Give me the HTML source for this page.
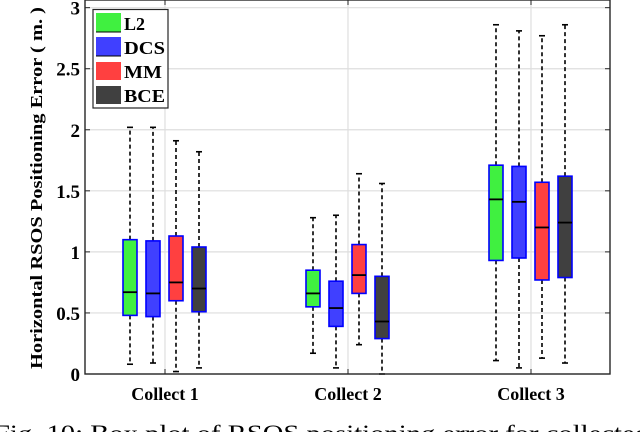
<!DOCTYPE html>
<html><head><meta charset="utf-8"><style>
html,body{margin:0;padding:0;background:#fff;overflow:hidden}
svg{display:block;font-family:"Liberation Serif",serif}
</style></head><body>
<svg id="chart" width="640" height="432" viewBox="0 0 640 432">
<g id="grid"></g>
<g id="boxes"></g>
<g id="axes"></g>
<text x="42" y="188" transform="rotate(-90 42 188)" text-anchor="middle" font-size="17" font-weight="bold" textLength="362" lengthAdjust="spacingAndGlyphs">Horizontal RSOS Positioning Error ( m. )</text>
<g>
<rect x="93" y="9.5" width="75" height="98.5" fill="#fff" stroke="#262626" stroke-width="1.2"/>
<g><rect x="96" y="13" width="25" height="19" fill="#40f040"/><line x1="96" y1="32" x2="121" y2="32" stroke="#000"/><text x="124" y="30" font-size="18" font-weight="bold">L2</text></g>
<g><rect x="96" y="37" width="25" height="19" fill="#4040ff"/><line x1="96" y1="56" x2="121" y2="56" stroke="#000"/><text x="124" y="54" font-size="18" font-weight="bold" textLength="41" lengthAdjust="spacingAndGlyphs">DCS</text></g>
<g><rect x="96" y="62" width="25" height="18" fill="#ff4040"/><text x="124" y="78" font-size="18" font-weight="bold" textLength="38" lengthAdjust="spacingAndGlyphs">MM</text></g>
<g><rect x="96" y="86" width="25" height="18" fill="#404040"/><text x="124" y="102" font-size="18" font-weight="bold" textLength="41" lengthAdjust="spacingAndGlyphs">BCE</text></g>
</g>
<text x="-6" y="441" font-size="23" textLength="655" lengthAdjust="spacingAndGlyphs">Fig. 10: Box plot of RSOS positioning error for collected</text>
</svg>
<script>
const categories = ["Collect 1","Collect 2","Collect 3"];
const methods = ["L2","DCS","MM","BCE"];
const colors = ["#40f040","#4040ff","#ff4040","#404040"];
const yTicks = [0,0.5,1,1.5,2,2.5,3];
const yTickLabels = ["0","0.5","1","1.5","2","2.5","3"];
// [lower whisker, q1, median, q3, upper whisker] per method per collect
const l2Stats  = [[0.08,0.48,0.67,1.10,2.02],[0.17,0.55,0.66,0.85,1.28],[0.11,0.93,1.43,1.71,2.86]];
const dcsStats = [[0.09,0.47,0.66,1.09,2.02],[0.05,0.39,0.54,0.76,1.30],[0.05,0.95,1.41,1.70,2.81]];
const mmStats  = [[0.02,0.60,0.75,1.13,1.91],[0.24,0.66,0.81,1.06,1.64],[0.13,0.77,1.20,1.57,2.77]];
const bceStats = [[0.05,0.51,0.70,1.04,1.82],[0.00,0.29,0.43,0.80,1.56],[0.09,0.79,1.24,1.62,2.86]];
const allStats = [l2Stats,dcsStats,mmStats,bceStats];

const NS="http://www.w3.org/2000/svg";
const L=85,R=610,T=0,B=374,yMax=3.03;
const y=v=>B-(v/yMax)*(B-T-4);
const xCenter=i=>165+i*183;
const offs=[-35,-12,11,34];
function mk(tag,attrs,parent){const e=document.createElementNS(NS,tag);for(const k in attrs)e.setAttribute(k,attrs[k]);parent.appendChild(e);return e;}
const grid=document.getElementById('grid'),boxes=document.getElementById('boxes'),axes=document.getElementById('axes');
yTicks.forEach((t,i)=>{
  const g=mk('line',{x1:L,x2:R,y1:y(t),y2:y(t),stroke:'#dedede','stroke-width':1.2},grid);
  
  
  mk('line',{x1:L,x2:L+5,y1:y(t),y2:y(t),stroke:'#262626'},axes);
  mk('line',{x1:R-5,x2:R,y1:y(t),y2:y(t),stroke:'#262626'},axes);
  const tx=mk('text',{x:80,y:y(t)+7,'text-anchor':'end','font-size':19,'font-weight':'bold'},axes);
  tx.textContent=yTickLabels[i];
  
  
});
categories.forEach((c,i)=>{
  const g=mk('line',{x1:xCenter(i),x2:xCenter(i),y1:T,y2:B,stroke:'#dedede','stroke-width':1.2},grid);
  
  
  mk('line',{x1:xCenter(i),x2:xCenter(i),y1:B,y2:B-5,stroke:'#262626'},axes);
  mk('line',{x1:xCenter(i),x2:xCenter(i),y1:T,y2:T+5,stroke:'#262626'},axes);
  const tx=mk('text',{x:xCenter(i),y:400,'text-anchor':'middle','font-size':18,'font-weight':'bold'},axes);
  tx.textContent=c;
  
  
  allStats.forEach((ms,m)=>{
    const s=ms[i],cx=xCenter(i)+offs[m],w=14;
    const g2=mk('g',{},boxes);
    
    
    mk('line',{x1:cx,x2:cx,y1:y(s[3]),y2:y(s[4]),stroke:'#000','stroke-width':1.6,'stroke-dasharray':'4 3'},g2);
    mk('line',{x1:cx,x2:cx,y1:y(s[1]),y2:y(s[0]),stroke:'#000','stroke-width':1.6,'stroke-dasharray':'4 3'},g2);
    mk('line',{x1:cx-3,x2:cx+3,y1:y(s[4]),y2:y(s[4]),stroke:'#000','stroke-width':1.6},g2);
    mk('line',{x1:cx-3,x2:cx+3,y1:y(s[0]),y2:y(s[0]),stroke:'#000','stroke-width':1.6},g2);
    mk('rect',{x:cx-w/2,y:y(s[3]),width:w,height:y(s[1])-y(s[3]),fill:colors[m],stroke:'#0000ff','stroke-width':1.6},g2);
    mk('line',{x1:cx-w/2,x2:cx+w/2,y1:y(s[2]),y2:y(s[2]),stroke:'#000','stroke-width':1.8},g2);
  });
});
const fr=mk('rect',{x:L,y:T,width:R-L,height:B-T,fill:'none',stroke:'#262626','stroke-width':1.4},axes);


</script>
</body></html>
